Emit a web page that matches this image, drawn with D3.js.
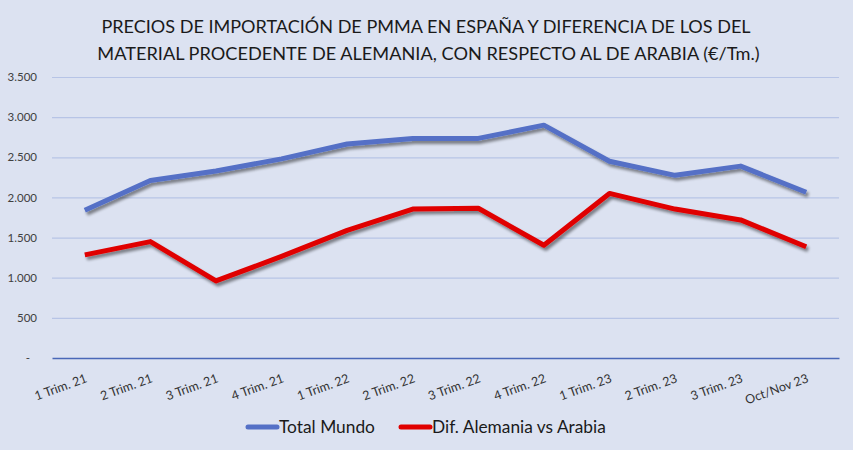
<!DOCTYPE html>
<html>
<head>
<meta charset="utf-8">
<script src="https://cdn.jsdelivr.net/npm/d3@7"></script>
<style>
  html, body { margin: 0; padding: 0; background: #dce2f1; }
  svg { display: block; font-family: Lato, "Open Sans", sans-serif; }
</style>
</head>
<body>
<svg id="chart" width="853" height="450"></svg>
<script>
// chart data
const categories = ["1 Trim. 21", "2 Trim. 21", "3 Trim. 21", "4 Trim. 21",
  "1 Trim. 22", "2 Trim. 22", "3 Trim. 22", "4 Trim. 22",
  "1 Trim. 23", "2 Trim. 23", "3 Trim. 23", "Oct/Nov 23"];
const totalMundo = [1840, 2210, 2330, 2480, 2665, 2735, 2735, 2900, 2450, 2275, 2390, 2065];
const difAlemaniaArabia = [1285, 1450, 960, 1265, 1590, 1855, 1865, 1405, 2050, 1855, 1720, 1385];
const yTicks = [0, 500, 1000, 1500, 2000, 2500, 3000, 3500];
const titleLines = [
  "PRECIOS DE IMPORTACIÓN DE PMMA EN ESPAÑA  Y DIFERENCIA DE LOS DEL",
  "MATERIAL PROCEDENTE DE ALEMANIA, CON RESPECTO AL DE ARABIA (€/Tm.)"
];
const seriesNames = ["Total Mundo", "Dif. Alemania vs Arabia"];

const svg = d3.select("#chart");
const W = 853, H = 450;
const margin = { left: 52, right: 14, top: 77, bottom: 92 };

svg.append("rect").attr("width", W).attr("height", H).attr("fill", "#dce2f1");

const x = d3.scaleBand()
  .domain(categories)
  .range([margin.left, W - margin.right])
  .padding(0);

const y = d3.scaleLinear()
  .domain([0, 3500])
  .range([H - margin.bottom, margin.top]);

// fit a text to a wanted width by changing its font size
function fitWidth(sel, width) {
  sel.each(function() {
    const w = this.getComputedTextLength();
    const fs = parseFloat(d3.select(this).attr("font-size"));
    d3.select(this).attr("font-size", fs * width / w);
  });
}

// drop shadow like the office chart
const defs = svg.append("defs");
const shadow = defs.append("filter").attr("id", "shadow")
  .attr("x", "-5%").attr("y", "-20%").attr("width", "110%").attr("height", "140%");
shadow.append("feGaussianBlur").attr("in", "SourceAlpha").attr("stdDeviation", 1.6).attr("result", "blur");
shadow.append("feOffset").attr("dx", 1.5).attr("dy", 2.5).attr("result", "off");
shadow.append("feComponentTransfer").append("feFuncA").attr("type", "linear").attr("slope", 0.45);
const merge = shadow.append("feMerge");
merge.append("feMergeNode");
merge.append("feMergeNode").attr("in", "SourceGraphic");

// title
const titleWidths = [650, 663];
svg.append("g").selectAll("text")
  .data(titleLines)
  .join("text")
  .attr("x", (d, i) => i === 0 ? 426 : 428.5)
  .attr("y", (d, i) => 33 + i * 27)
  .attr("text-anchor", "middle")
  .attr("font-size", 21)
  .attr("fill", "#1a1a1a")
  .text(d => d)
  .each(function(d, i) { fitWidth(d3.select(this), titleWidths[i]); });

// grid + y axis
const yAxis = svg.append("g")
  .attr("transform", "translate(" + margin.left + ",0)")
  .call(d3.axisLeft(y)
    .tickValues(yTicks)
    .tickSize(-(W - margin.left - margin.right))
    .tickFormat(d => d === 0 ? "-" : d3.format(",")(d).replace(/,/g, ".")));

yAxis.select(".domain").remove();
yAxis.selectAll(".tick line").attr("stroke", "#b7c4e6").attr("stroke-width", 1.2);
yAxis.selectAll(".tick text")
  .attr("x", -15)
  .attr("font-size", 11.5)
  .attr("font-family", "Lato, sans-serif")
  .attr("fill", "#404040");
yAxis.selectAll(".tick").filter(d => d === 0).select("text").attr("x", -22);
yAxis.selectAll(".tick").filter(d => d === 0).select("line").remove();

// x axis
const xAxis = svg.append("g")
  .attr("transform", "translate(0," + y(0) + ")")
  .call(d3.axisBottom(x).tickSize(0));

xAxis.select(".domain").attr("stroke", "#4a68b8").attr("stroke-width", 1.5);
xAxis.selectAll(".tick text")
  .attr("font-size", 12.5)
  .attr("font-family", "Lato, sans-serif")
  .attr("fill", "#333333")
  .attr("text-anchor", "end")
  .attr("dy", 0)
  .attr("transform", "translate(2,21) rotate(-20)");

// lines
const line = d3.line()
  .x((d, i) => x(categories[i]) + x.bandwidth() / 2)
  .y(d => y(d));

const series = [
  { name: seriesNames[0], values: totalMundo, color: "#5470c6" },
  { name: seriesNames[1], values: difAlemaniaArabia, color: "#e00000" }
];

svg.append("g").selectAll("path")
  .data(series)
  .join("path")
  .attr("d", d => line(d.values))
  .attr("fill", "none")
  .attr("stroke", d => d.color)
  .attr("stroke-width", 5)
  .attr("stroke-linejoin", "round")
  .attr("filter", "url(#shadow)");

// legend
const legendPos = [{ x: 248, tx: 279, w: 96 }, { x: 401, tx: 432, w: 174 }];
const legend = svg.append("g").selectAll("g")
  .data(series)
  .join("g");

legend.append("line")
  .attr("x1", (d, i) => legendPos[i].x)
  .attr("x2", (d, i) => legendPos[i].x + 29)
  .attr("y1", 427).attr("y2", 427)
  .attr("stroke", d => d.color)
  .attr("stroke-width", 5)
  .attr("stroke-linecap", "round");

legend.append("text")
  .attr("x", (d, i) => legendPos[i].tx)
  .attr("y", 433)
  .attr("font-size", 16)
  .attr("fill", "#1a1a1a")
  .text(d => d.name)
  .each(function(d, i) { fitWidth(d3.select(this), legendPos[i].w); });
</script>
</body>
</html>
